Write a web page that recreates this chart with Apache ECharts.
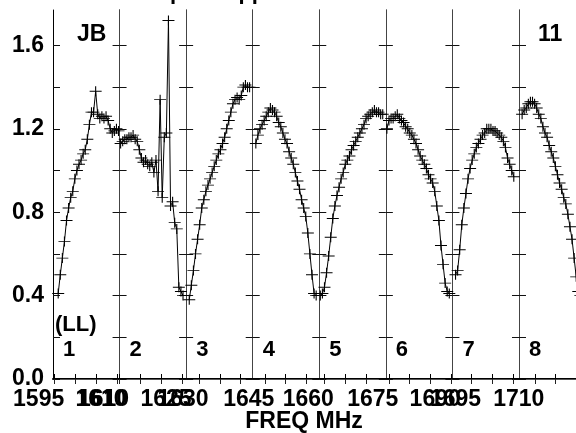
<!DOCTYPE html>
<html>
<head>
<meta charset="utf-8">
<script src="https://cdn.jsdelivr.net/npm/echarts@6/dist/echarts.min.js"></script>
<style>
  html, body { margin: 0; padding: 0; background: #fff; }
  #main { width: 576px; height: 433px; }
</style>
</head>
<body>
<div id="main"></div>
<script>
// one panel per IF, 32 channels each
const channelCount = 32;
const panelWidthMHz = 16;
const panelStartMHz = [1594.6, 1610.0, 1626.9, 1642.1, 1658.8, 1674.3, 1690.4, 1706.2];
const panelNames = ['1', '2', '3', '4', '5', '6', '7', '8'];
const xLabelMHz = [[1595, 1610], [1610, 1625], [1630], [1645], [1660], [1675, 1690], [1695], [1710]];
const yTickValues = [0, 0.2, 0.4, 0.6, 0.8, 1.0, 1.2, 1.4, 1.6];
const yLabelValues = [0, 0.4, 0.8, 1.2, 1.6];

// amplitude per channel (null = flagged / not plotted)
const ampIF1 = [null, null, 0.41, 0.50, 0.58, 0.66, 0.76, 0.82, 0.87, 0.90, 0.96, 1.00, 1.03, 1.05, 1.08, 1.10,
                1.15, 1.22, 1.28, 1.28, 1.38, 1.27, 1.25, 1.26, 1.25, 1.26, 1.24, 1.20, 1.18, 1.19, 1.20, 1.19];
const ampIF2 = [1.13, 1.14, 1.15, 1.15, 1.16, 1.16, 1.17, 1.15, 1.14, 1.10, 1.06, 1.04, 1.05, 1.03, 1.02, 1.04,
                0.99, 1.05, 0.90, 1.34, 0.87, 1.16, 1.18, 1.72, 0.83, 0.85, 0.75, 0.72, 0.44, 0.42, 0.40, null];
const ampIF3 = [null, 0.38, 0.45, 0.52, 0.60, 0.67, 0.74, 0.82, 0.86, 0.90, 0.93, 0.96, 0.99, 1.02, 1.05, 1.08,
                1.10, 1.13, 1.16, 1.20, 1.24, 1.28, 1.32, 1.34, 1.35, 1.34, 1.36, 1.40, 1.41, 1.40, 1.40, null];
const ampIF4 = [null, 1.13, 1.17, 1.20, 1.22, 1.24, 1.26, 1.28, 1.30, 1.29, 1.28, 1.26, 1.23, 1.21, 1.18, 1.15,
                1.13, 1.09, 1.06, 1.03, 0.99, 0.95, 0.91, 0.86, 0.82, 0.78, 0.70, 0.60, 0.50, 0.41, 0.40, null];
const ampIF5 = [0.40, 0.41, 0.44, 0.51, 0.59, 0.68, 0.77, 0.83, 0.88, 0.92, 0.96, 0.99, 1.03, 1.05, 1.07, 1.10,
                1.12, 1.14, 1.16, 1.18, 1.20, 1.22, 1.25, 1.26, 1.27, 1.28, 1.29, 1.28, 1.28, 1.27, 1.27, null];
const ampIF6 = [1.20, 1.24, 1.25, 1.25, 1.26, 1.27, 1.25, 1.24, 1.23, 1.21, 1.20, 1.18, 1.17, 1.15, 1.13, 1.10,
                1.07, 1.05, 1.03, 1.01, 0.98, 0.96, 0.94, 0.90, 0.83, 0.76, 0.64, 0.55, 0.46, 0.42, 0.41, null];
const ampIF7 = [null, 0.50, 0.52, 0.62, 0.74, 0.82, 0.89, 0.96, 1.01, 1.05, 1.08, 1.11, 1.13, 1.15, 1.17, 1.18,
                1.20, 1.20, 1.20, 1.19, 1.19, 1.18, 1.17, 1.16, 1.14, 1.11, 1.06, 1.03, 1.00, 0.97, null, null];
const ampIF8 = [null, 1.27, 1.29, 1.30, 1.32, 1.33, 1.33, 1.32, 1.30, 1.27, 1.25, 1.21, 1.18, 1.16, 1.12, 1.09,
                1.06, 1.02, 0.98, 0.94, 0.91, 0.87, 0.84, 0.79, 0.73, 0.67, 0.58, 0.49, 0.42, 0.40, 0.40, 0.41];
const ampByIF = [ampIF1, ampIF2, ampIF3, ampIF4, ampIF5, ampIF6, ampIF7, ampIF8];

const chart = echarts.init(document.getElementById('main'), null, { renderer: 'canvas' });

const FONT = 'Liberation Sans, Arial, Helvetica, sans-serif';
const plotLeft = 53, plotTop = 10, plotHeight = 369, panelPx = 66.57, canvasW = 576;
const crossSymbol = 'path://M0,5L10,5M5,0L5,10';
const lastPanel = ampByIF.length - 1;

const grids = [], xAxes = [], yAxes = [], series = [], graphics = [];

ampByIF.forEach((amps, k) => {
  const left = plotLeft + panelPx * k;
  // the last panel runs off the page; keep its scale by cutting its range
  const widthPx = Math.min(panelPx, canvasW - left);
  const f0 = panelStartMHz[k], f1 = f0 + panelWidthMHz * widthPx / panelPx;
  const tickVals = [];
  for (let f = Math.ceil(f0 / 5) * 5; f <= f1; f += 5) tickVals.push(f);

  grids.push({ left: left, top: plotTop, width: widthPx, height: plotHeight, show: false });

  // bottom axis with labels, top axis ticks only
  xAxes.push({
    type: 'value', gridIndex: k, position: 'bottom', min: f0, max: f1,
    axisLine: { show: true, lineStyle: { color: '#000', width: 2 } },
    axisTick: { show: true, inside: true, length: 5, customValues: tickVals, lineStyle: { color: '#000' } },
    axisLabel: {
      show: true, customValues: xLabelMHz[k], formatter: v => String(Math.round(v)),
      color: '#000', fontFamily: FONT, fontWeight: 'bold', fontSize: 23, margin: 9,
      padding: [0, 32, 0, 0]
    },
    splitLine: { show: false }
  });
  xAxes.push({
    type: 'value', gridIndex: k, position: 'top', min: f0, max: f1,
    axisLine: { show: true, lineStyle: { color: '#555', width: 1 } },
    axisTick: { show: true, inside: true, length: 5, customValues: tickVals, lineStyle: { color: '#222' } },
    axisLabel: { show: false },
    splitLine: { show: false }
  });

  const yBase = {
    type: 'value', gridIndex: k, min: 0, max: 1.77,
    axisLine: { show: true, lineStyle: { color: k === 0 ? '#000' : '#444', width: 1 } },
    axisTick: { show: true, inside: true, length: 7, customValues: yTickValues, lineStyle: { color: '#111' } },
    splitLine: { show: false }
  };
  yAxes.push(Object.assign({}, yBase, {
    position: 'left',
    axisLabel: k === 0 ? {
      show: true, customValues: yLabelValues, formatter: v => v.toFixed(1),
      color: '#000', fontFamily: FONT, fontWeight: 'bold', fontSize: 23, margin: 9
    } : { show: false }
  }));
  yAxes.push(Object.assign({}, yBase, {
    position: 'right', show: k !== lastPanel, axisLabel: { show: false }
  }));

  const data = amps.map((a, i) => [f0 + (i + 0.5) * panelWidthMHz / channelCount, a]);
  series.push({
    type: 'line', xAxisIndex: 2 * k, yAxisIndex: 2 * k, data: data,
    symbol: crossSymbol, symbolSize: [12, 10], showSymbol: true, clip: false,
    lineStyle: { color: '#000', width: 1 },
    itemStyle: { color: 'rgba(0,0,0,0)', borderColor: '#000', borderWidth: 1 },
    connectNulls: false, silent: true
  });

  graphics.push({
    type: 'text', left: left + 10, top: 339,
    style: { text: panelNames[k], font: 'bold 22px ' + FONT, fill: '#000' }
  });
});

graphics.push(
  { type: 'text', x: 0, y: 4, style: { text: 'Corrected: bandpass applied', font: 'bold 22px ' + FONT, fill: '#000', textVerticalAlign: 'bottom' } },
  { type: 'text', left: 77, top: 23, style: { text: 'JB', font: 'bold 23px ' + FONT, fill: '#000' } },
  { type: 'text', left: 538, top: 23, style: { text: '11', font: 'bold 23px ' + FONT, fill: '#000' } },
  { type: 'text', left: 55, top: 314, style: { text: '(LL)', font: 'bold 22px ' + FONT, fill: '#000' } },
  { type: 'text', x: 304, y: 422, style: { text: 'FREQ MHz', font: 'bold 23px ' + FONT, fill: '#000', textAlign: 'center', textVerticalAlign: 'middle' } }
);

const option = {
  animation: false,
  backgroundColor: '#fff',
  grid: grids,
  xAxis: xAxes,
  yAxis: yAxes,
  series: series,
  graphic: graphics
};

option && chart.setOption(option);
</script>
</body>
</html>
